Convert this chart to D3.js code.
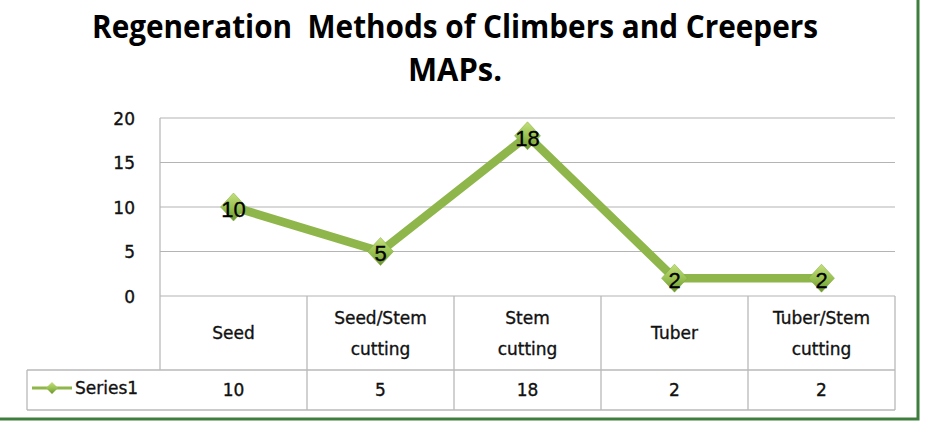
<!DOCTYPE html>
<html><head><meta charset="utf-8">
<script src="https://cdn.jsdelivr.net/npm/d3@7"></script>
<style>body{margin:0;background:#fff}svg{display:block}</style>
</head><body>
<svg id="c" width="926" height="424"></svg>
<script>
const titleLines = ["Regeneration  Methods of Climbers and Creepers", "MAPs."];
const categories = [["Seed"], ["Seed/Stem", "cutting"], ["Stem", "cutting"], ["Tuber"], ["Tuber/Stem", "cutting"]];
const seriesName = "Series1";
const values = [10, 5, 18, 2, 2];
const yTicks = [0, 5, 10, 15, 20];

const svg = d3.select("#c");
const W = 926, H = 424;
const L = 160, R = 895, T = 118, B = 296;
const tableHdrBottom = 370, tableBottom = 410, legendLeft = 27;
const tableFont = "'DejaVu Sans', sans-serif";
const textStyle = sel => sel.attr("font-family", tableFont).attr("font-size", 17).attr("fill", "#111")
  .attr("stroke", "#111").attr("stroke-width", 0.35);

const defs = svg.append("defs");
const grad = defs.append("linearGradient").attr("id", "mk").attr("x1", 0).attr("y1", 0).attr("x2", 0).attr("y2", 1);
grad.append("stop").attr("offset", "0%").attr("stop-color", "#c4e07c");
grad.append("stop").attr("offset", "55%").attr("stop-color", "#96bf4f");
grad.append("stop").attr("offset", "100%").attr("stop-color", "#6a9430");

// frame
svg.append("rect").attr("x", -10).attr("y", -10).attr("width", 928).attr("height", 429)
  .attr("fill", "none").attr("stroke", "#3d7d3d").attr("stroke-width", 3);

// title
svg.append("text").attr("x", 455).attr("y", 38).attr("text-anchor", "middle").style("white-space", "pre")
  .attr("font-family", "'Open Sans', sans-serif").attr("font-weight", "bold").attr("font-size", 33)
  .attr("textLength", 726).attr("lengthAdjust", "spacingAndGlyphs").attr("fill", "#000")
  .text(titleLines[0]);
svg.append("text").attr("x", 455).attr("y", 81).attr("text-anchor", "middle")
  .attr("font-family", "'Open Sans', sans-serif").attr("font-weight", "bold").attr("font-size", 33)
  .attr("textLength", 94).attr("lengthAdjust", "spacingAndGlyphs").attr("fill", "#000")
  .text(titleLines[1]);

const x = d3.scaleBand().domain(d3.range(values.length)).range([L, R]);
const y = d3.scaleLinear().domain([0, 20]).range([B, T]);

// gridlines
svg.append("g").selectAll("line").data(yTicks).join("line")
  .attr("x1", L).attr("x2", R).attr("y1", d => y(d)).attr("y2", d => y(d))
  .attr("stroke", "#b4b4b4").attr("stroke-width", 1.2);
svg.append("line").attr("x1", L).attr("x2", L).attr("y1", T).attr("y2", tableHdrBottom)
  .attr("stroke", "#b4b4b4").attr("stroke-width", 1.2);

// y axis
const yAxis = d3.axisLeft(y).tickValues(yTicks).tickSize(0).tickPadding(0);
const ya = svg.append("g").attr("transform", `translate(${L - 25},0)`).call(yAxis);
ya.select(".domain").remove();
ya.selectAll("text").call(textStyle).attr("dy", "0.36em");

// table
const tg = svg.append("g").attr("stroke", "#b8b8b8").attr("stroke-width", 1.3);
x.domain().forEach(i => {
  tg.append("line").attr("x1", x(i) + x.bandwidth()).attr("x2", x(i) + x.bandwidth()).attr("y1", B).attr("y2", tableBottom);
});
tg.append("line").attr("x1", legendLeft).attr("x2", R).attr("y1", tableHdrBottom).attr("y2", tableHdrBottom);
tg.append("line").attr("x1", legendLeft).attr("x2", R).attr("y1", tableBottom).attr("y2", tableBottom);
tg.append("line").attr("x1", legendLeft).attr("x2", legendLeft).attr("y1", tableHdrBottom).attr("y2", tableBottom);

// category labels
const cl = svg.append("g").selectAll("text").data(categories).join("text")
  .attr("text-anchor", "middle").call(textStyle);
cl.each(function(d, i) {
  const t = d3.select(this);
  const cx = x(i) + x.bandwidth() / 2;
  const mid = (B + tableHdrBottom) / 2;
  const lh = 31;
  d.forEach((line, k) => {
    t.append("tspan").attr("x", cx).attr("y", mid + (k - (d.length - 1) / 2) * lh).attr("dy", "0.36em").text(line);
  });
});

// value row
svg.append("g").selectAll("text").data(values).join("text")
  .attr("x", (d, i) => x(i) + x.bandwidth() / 2).attr("y", (tableHdrBottom + tableBottom) / 2).attr("dy", "0.36em")
  .attr("text-anchor", "middle").call(textStyle)
  .text(d => d);

// legend key
const ly = (tableHdrBottom + tableBottom) / 2 - 2;
svg.append("line").attr("x1", 32).attr("x2", 72).attr("y1", ly).attr("y2", ly).attr("stroke", "#8fb64b").attr("stroke-width", 3);
svg.append("path").attr("d", "M0,-6L6,0L0,6L-6,0Z").attr("transform", `translate(52,${ly})`).attr("fill", "url(#mk)");
svg.append("text").attr("x", 75).attr("y", ly).attr("dy", "0.36em").call(textStyle).text(seriesName);

// line
const cx = i => x(i) + x.bandwidth() / 2;
svg.append("path").datum(values)
  .attr("d", d3.line().x((d, i) => cx(i)).y(d => y(d)))
  .attr("fill", "none").attr("stroke", "#8fb64b").attr("stroke-width", 8.5).attr("stroke-linejoin", "miter");

// markers
svg.append("g").selectAll("path").data(values).join("path")
  .attr("d", "M0,-14L13,0L0,14L-13,0Z")
  .attr("transform", (d, i) => `translate(${cx(i)},${y(d)})`)
  .attr("fill", "url(#mk)").attr("stroke", "#7ea83e").attr("stroke-width", 0.5);

// data labels
svg.append("g").selectAll("text").data(values).join("text")
  .attr("x", (d, i) => cx(i)).attr("y", d => y(d) + 2).attr("dy", "0.36em")
  .attr("text-anchor", "middle").attr("font-family", "'Liberation Sans', sans-serif").attr("font-size", 22).attr("fill", "#000")
  .attr("stroke", "#000").attr("stroke-width", 0.3)
  .text(d => d);
</script>
</body></html>
